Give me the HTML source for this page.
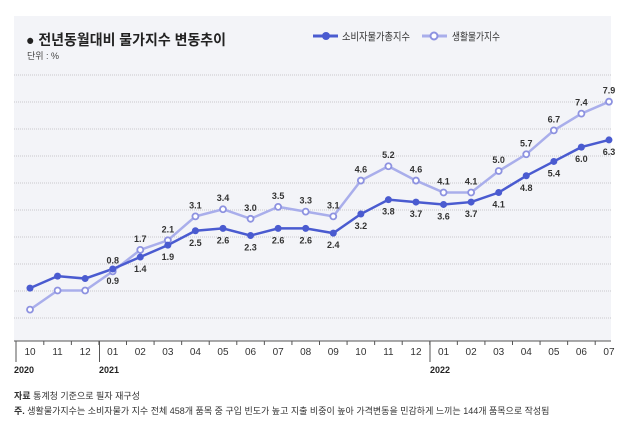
<!DOCTYPE html>
<html><head><meta charset="utf-8"><style>
body{margin:0;background:#fff;}
svg{display:block;font-family:"Liberation Sans","Noto Sans CJK KR",sans-serif;}
</style></head><body>
<svg width="641" height="432" viewBox="0 0 641 432">
<rect x="14" y="16" width="597" height="325" fill="#f3f4f8"/>
<text x="26" y="45" font-size="14.5" font-weight="bold" fill="#222" textLength="200" lengthAdjust="spacingAndGlyphs">● 전년동월대비 물가지수 변동추이</text>
<text x="27" y="59" font-size="9" fill="#444">단위 : %</text>
<line x1="313" y1="36" x2="338" y2="36" stroke="#4a5bd0" stroke-width="3"/>
<circle cx="326" cy="36" r="4" fill="#4a5bd0"/>
<text x="342" y="40" font-size="10.5" fill="#333" textLength="68" lengthAdjust="spacingAndGlyphs">소비자물가총지수</text>
<line x1="422" y1="36" x2="447" y2="36" stroke="#a9aeeb" stroke-width="3"/>
<circle cx="434" cy="36" r="3.5" fill="#fff" stroke="#8d92e0" stroke-width="2"/>
<text x="452" y="40" font-size="10.5" fill="#333" textLength="48" lengthAdjust="spacingAndGlyphs">생활물가지수</text>
<g stroke="#c8c8cc" stroke-width="1" stroke-dasharray="1,1">
<line x1="14" y1="75" x2="611" y2="75"/><line x1="14" y1="102" x2="611" y2="102"/>
<line x1="14" y1="129" x2="611" y2="129"/><line x1="14" y1="156" x2="611" y2="156"/>
<line x1="14" y1="183" x2="611" y2="183"/><line x1="14" y1="210" x2="611" y2="210"/>
<line x1="14" y1="237" x2="611" y2="237"/><line x1="14" y1="264" x2="611" y2="264"/>
<line x1="14" y1="291" x2="611" y2="291"/><line x1="14" y1="318" x2="611" y2="318"/>
</g>
<g id="chart"></g>
<line x1="14" y1="341" x2="611" y2="341" stroke="#555" stroke-width="1"/>
<g id="ax" font-size="10" fill="#333" text-anchor="middle"></g>
<text x="14" y="373" font-size="9" font-weight="bold" fill="#222">2020</text>
<text x="99" y="373" font-size="9" font-weight="bold" fill="#222">2021</text>
<text x="430" y="373" font-size="9" font-weight="bold" fill="#222">2022</text>
<text x="14" y="399" font-size="9" fill="#333"><tspan font-weight="bold">자료</tspan> 통계청 기준으로 필자 재구성</text>
<text x="14" y="414" font-size="9" fill="#333"><tspan font-weight="bold">주.</tspan> 생활물가지수는 소비자물가 지수 전체 458개 품목 중 구입 빈도가 높고 지출 비중이 높아 가격변동을 민감하게 느끼는 144개 품목으로 작성됨</text>
</svg>
<script>
var NS="http://www.w3.org/2000/svg";
function el(t,a,p){var e=document.createElementNS(NS,t);for(var k in a)e.setAttribute(k,a[k]);p.appendChild(e);return e;}
var X=i=>30+27.57*i, Y=v=>290.5-23.9*v;
var dk=[0.1,0.6,0.5,0.9,1.4,1.9,2.5,2.6,2.3,2.6,2.6,2.4,3.2,3.8,3.7,3.6,3.7,4.1,4.8,5.4,6.0,6.3];
var lt=[-0.8,0,0,0.8,1.7,2.1,3.1,3.4,3.0,3.5,3.3,3.1,4.6,5.2,4.6,4.1,4.1,5.0,5.7,6.7,7.4,7.9];
var g=document.getElementById("chart"),ax=document.getElementById("ax");
el("polyline",{points:lt.map((v,i)=>X(i)+","+Y(v)).join(" "),fill:"none",stroke:"#a9aeeb","stroke-width":2.5},g);
el("polyline",{points:dk.map((v,i)=>X(i)+","+Y(v)).join(" "),fill:"none",stroke:"#4a5bd0","stroke-width":2.5},g);
lt.forEach((v,i)=>{el("circle",{cx:X(i),cy:Y(v),r:3,fill:"#fff",stroke:"#8d92e0","stroke-width":1.8},g);
 if(i>=3){var t=el("text",{x:X(i),y:Y(v)-8,"font-size":9,"font-weight":"bold","text-anchor":"middle",fill:"#333"},g);t.textContent=v.toFixed(1);}});
dk.forEach((v,i)=>{el("circle",{cx:X(i),cy:Y(v),r:3.5,fill:"#4a5bd0"},g);
 if(i>=3){var t=el("text",{x:X(i),y:Y(v)+15,"font-size":9,"font-weight":"bold","text-anchor":"middle",fill:"#333"},g);t.textContent=v.toFixed(1);}});
var m=["10","11","12","01","02","03","04","05","06","07","08","09","10","11","12","01","02","03","04","05","06","07"];
m.forEach((s,i)=>{var t=el("text",{x:X(i),y:355},ax);t.textContent=s;
 if(i<21)el("line",{x1:X(i)+13.8,y1:341,x2:X(i)+13.8,y2:345,stroke:"#555"},ax);});
el("line",{x1:16,y1:341,x2:16,y2:362,stroke:"#555"},ax);
el("line",{x1:99.5,y1:341,x2:99.5,y2:362,stroke:"#555"},ax);
el("line",{x1:430,y1:341,x2:430,y2:362,stroke:"#555"},ax);
</script>
</body></html>
